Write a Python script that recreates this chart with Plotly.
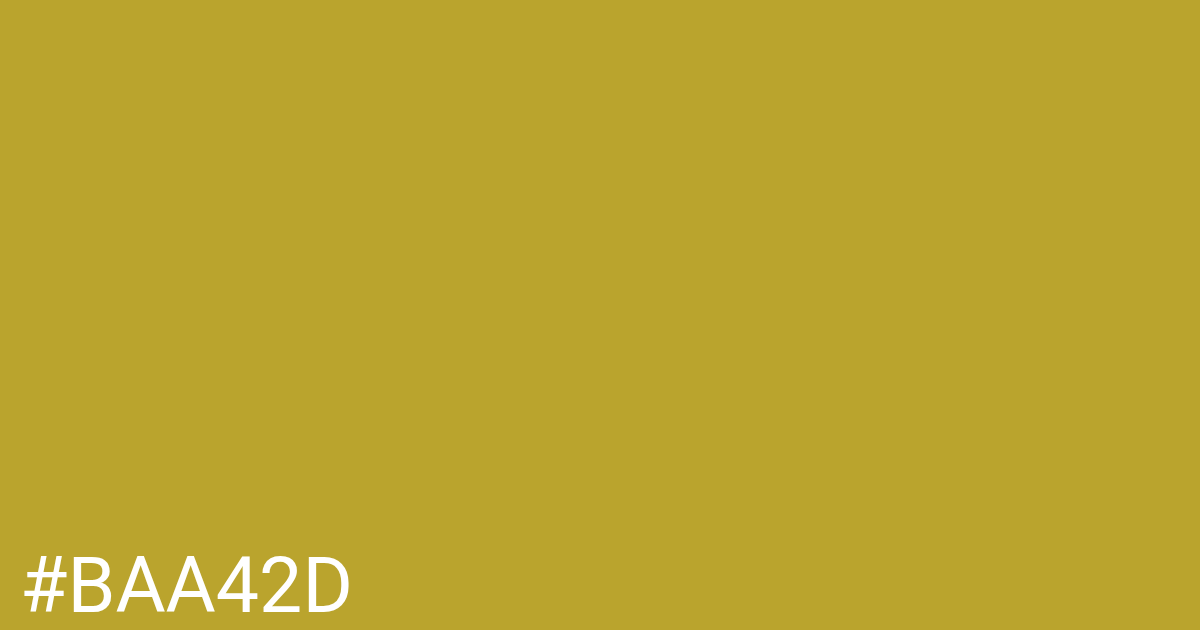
import plotly.graph_objects as go

# swatch colour and its label
swatch_color = "#BAA42D"
label_text = "#BAA42D"
label_color = "#FFFFFF"

fig = go.Figure()

fig.add_annotation(text=label_text,
                   xref="paper", yref="paper",
                   x=18 / 1200, y=0,
                   xanchor="left", yanchor="bottom",
                   yshift=-3,
                   showarrow=False,
                   font=dict(family="Roboto", size=77, color=label_color))

fig.update_layout(width=1200, height=630,
                  paper_bgcolor=swatch_color,
                  plot_bgcolor=swatch_color,
                  margin=dict(l=0, r=0, t=0, b=0),
                  xaxis=dict(visible=False),
                  yaxis=dict(visible=False),
                  showlegend=False)

# drop the page's default body margin so the swatch fills the window
fig.write_html("out.html", config={"displayModeBar": False},
               post_script="document.body.style.margin='0';"
                           "document.body.style.overflow='hidden';")
